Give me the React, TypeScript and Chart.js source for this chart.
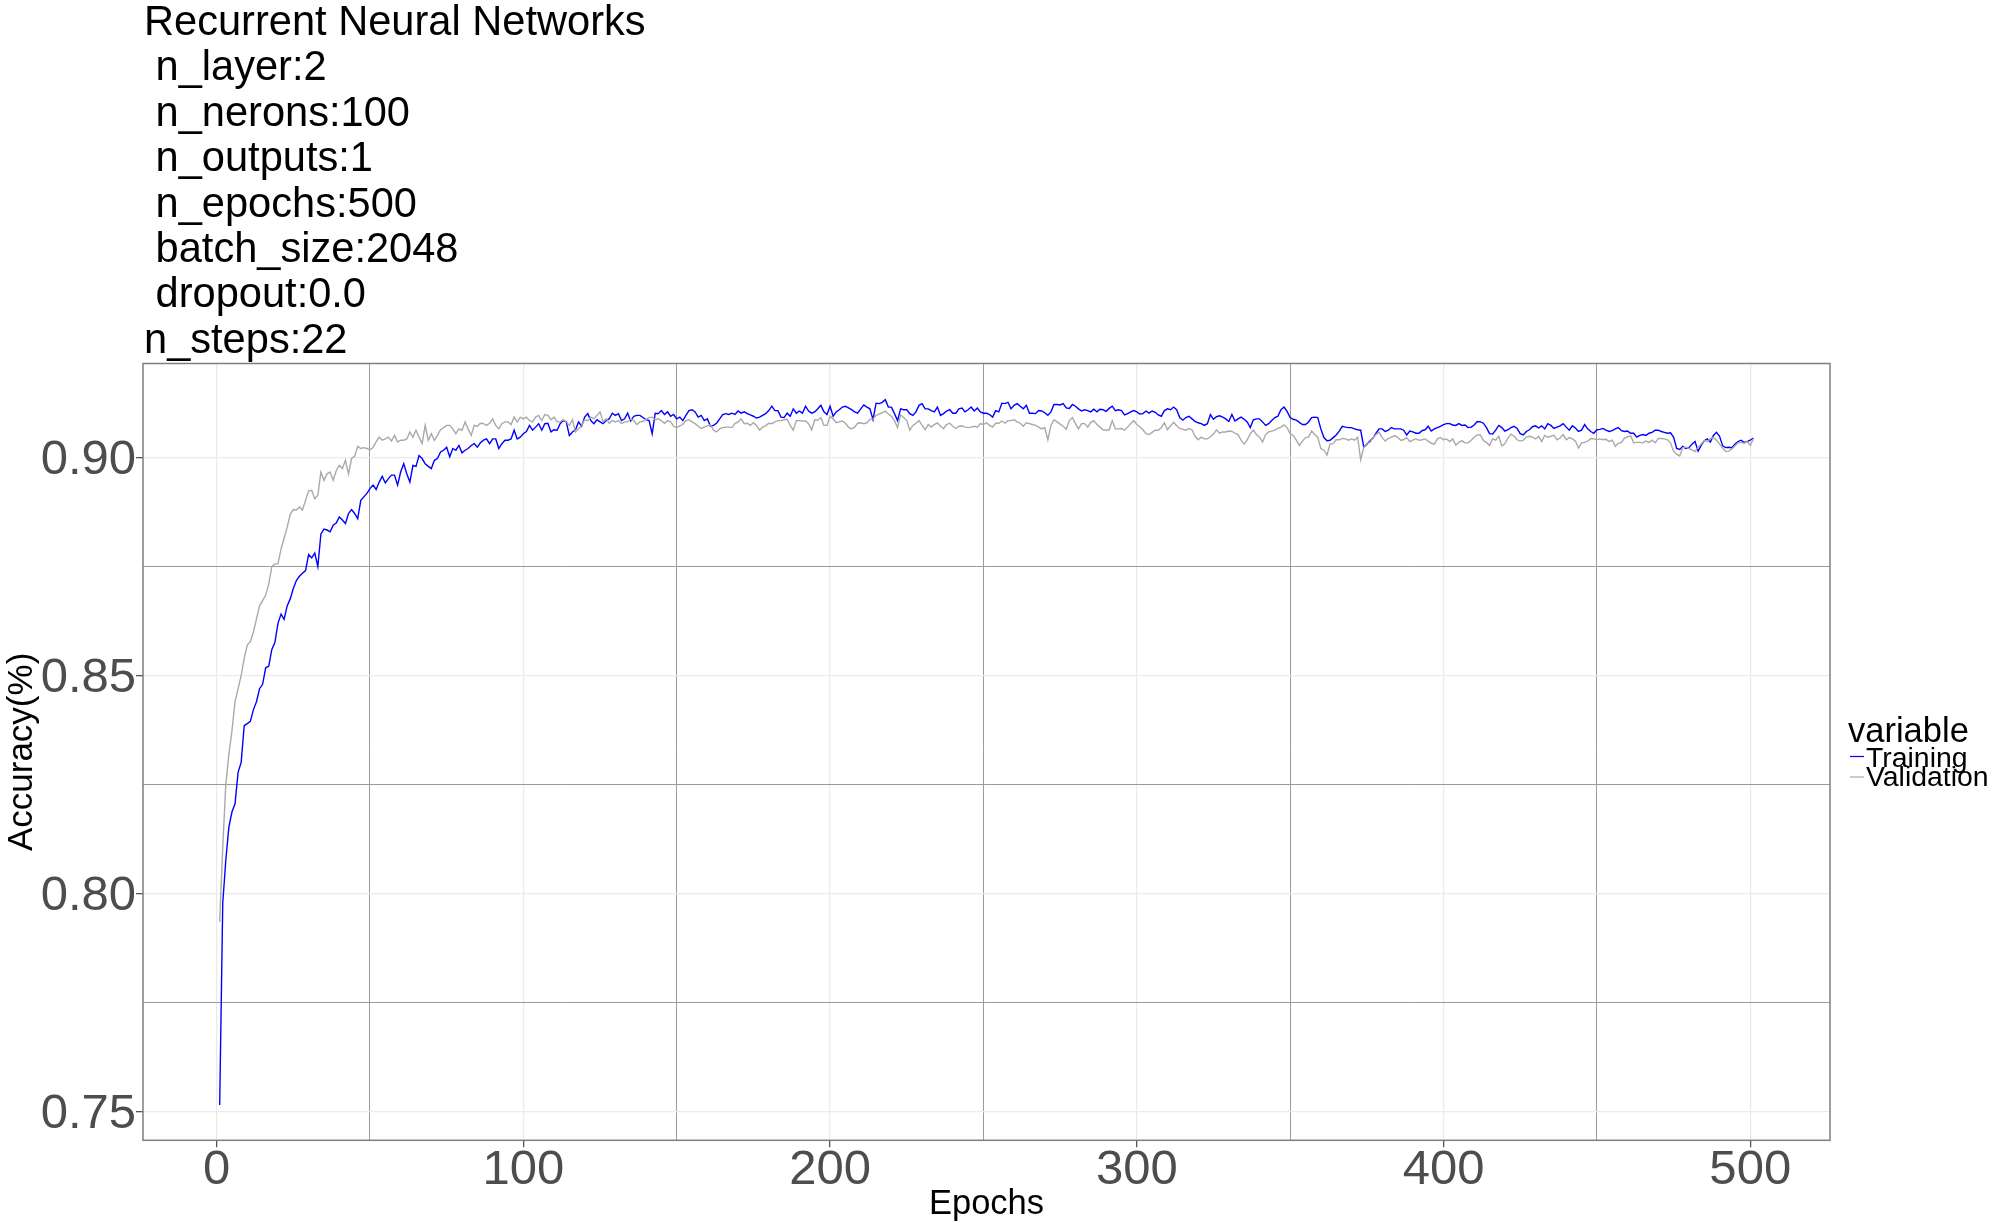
import React, { useEffect, useRef } from "react";
import { Chart, registerables } from "chart.js";

Chart.register(...registerables);

const FONT = '"Liberation Sans", Arial, Helvetica, sans-serif';

const titleLines = [
  "Recurrent Neural Networks",
  " n_layer:2",
  " n_nerons:100",
  " n_outputs:1",
  " n_epochs:500",
  " batch_size:2048",
  " dropout:0.0",
  "n_steps:22",
];

const seriesNames = ["Training", "Validation"];
const seriesColors = ["#0000FF", "#A9A9A9"];
const legendTitle = "variable";
const xTitle = "Epochs";
const yTitle = "Accuracy(%)";

const xTickValues = [0, 50, 100, 150, 200, 250, 300, 350, 400, 450, 500];
const xMajorTicks = [0, 100, 200, 300, 400, 500];
const yTickValues = [0.75, 0.775, 0.8, 0.825, 0.85, 0.875, 0.9];
const yMajorTicks = [0.75, 0.8, 0.85, 0.9];

// accuracy per epoch (epoch 1 .. 501)
const training = [
  0.7515, 0.7978, 0.8077, 0.8153, 0.8187, 0.8206, 0.8278, 0.8301, 0.8385, 0.8390,
  0.8395, 0.8422, 0.8440, 0.8470, 0.8480, 0.8518, 0.8522, 0.8560, 0.8576, 0.8620,
  0.8641, 0.8629, 0.8660, 0.8676, 0.8700, 0.8718, 0.8728, 0.8735, 0.8741, 0.8778,
  0.8770, 0.8781, 0.8750, 0.8825, 0.8836, 0.8834, 0.8830, 0.8845, 0.8850, 0.8864,
  0.8857, 0.8849, 0.8872, 0.8881, 0.8872, 0.8860, 0.8902, 0.8910, 0.8918, 0.8929,
  0.8937, 0.8927, 0.8944, 0.8957, 0.8942, 0.8952, 0.8960, 0.8960, 0.8937, 0.8967,
  0.8986, 0.8963, 0.8944, 0.8982, 0.8980, 0.9005, 0.8998, 0.8986, 0.8980, 0.8975,
  0.8994, 0.8998, 0.9013, 0.9017, 0.9024, 0.9002, 0.9021, 0.9017, 0.9028, 0.9011,
  0.9017, 0.9021, 0.9028, 0.9032, 0.9024, 0.9034, 0.9040, 0.9043, 0.9032, 0.9043,
  0.9043, 0.9021, 0.9032, 0.9040, 0.9040, 0.9043, 0.9063, 0.9043, 0.9047, 0.9055,
  0.9060, 0.9074, 0.9063, 0.9070, 0.9078, 0.9063, 0.9078, 0.9079, 0.9059, 0.9064,
  0.9063, 0.9078, 0.9085, 0.9082, 0.9051, 0.9059, 0.9064, 0.9082, 0.9072, 0.9093,
  0.9101, 0.9085, 0.9078, 0.9087, 0.9082, 0.9078, 0.9085, 0.9089, 0.9102, 0.9097,
  0.9101, 0.9085, 0.9089, 0.9102, 0.9084, 0.9095, 0.9097, 0.9097, 0.9092, 0.9087,
  0.9085, 0.9055, 0.9102, 0.9101, 0.9108, 0.9099, 0.9105, 0.9095, 0.9099, 0.9089,
  0.9093, 0.9085, 0.9097, 0.9108, 0.9110, 0.9105, 0.9093, 0.9097, 0.9085, 0.9089,
  0.9072, 0.9074, 0.9079, 0.9089, 0.9099, 0.9101, 0.9099, 0.9102, 0.9099, 0.9107,
  0.9102, 0.9105, 0.9101, 0.9098, 0.9095, 0.9091, 0.9093, 0.9097, 0.9101, 0.9108,
  0.9118, 0.9108, 0.9108, 0.9093, 0.9092, 0.9102, 0.9095, 0.9112, 0.9102, 0.9107,
  0.9102, 0.9118, 0.9107, 0.9102, 0.9105, 0.9112, 0.9120, 0.9105, 0.9099, 0.9118,
  0.9095, 0.9105, 0.9110, 0.9116, 0.9118, 0.9114, 0.9110, 0.9105, 0.9102, 0.9112,
  0.9121, 0.9116, 0.9112, 0.9087, 0.9125, 0.9124, 0.9127, 0.9133, 0.9116, 0.9116,
  0.9101, 0.9085, 0.9112, 0.9110, 0.9110, 0.9101, 0.9097, 0.9105, 0.9120, 0.9124,
  0.9112, 0.9112, 0.9108, 0.9105, 0.9116, 0.9097, 0.9101, 0.9107, 0.9110, 0.9102,
  0.9102, 0.9112, 0.9114, 0.9105, 0.9110, 0.9116, 0.9107, 0.9114, 0.9105, 0.9102,
  0.9102, 0.9099, 0.9093, 0.9108, 0.9105, 0.9125, 0.9124, 0.9127, 0.9112, 0.9120,
  0.9124, 0.9118, 0.9112, 0.9120, 0.9102, 0.9102, 0.9101, 0.9108, 0.9107, 0.9103,
  0.9097, 0.9105, 0.9122, 0.9122, 0.9121, 0.9124, 0.9114, 0.9113, 0.9122, 0.9118,
  0.9112, 0.9107, 0.9110, 0.9108, 0.9105, 0.9111, 0.9105, 0.9111, 0.9110, 0.9106,
  0.9113, 0.9118, 0.9108, 0.9110, 0.9108, 0.9098, 0.9101, 0.9105, 0.9108, 0.9105,
  0.9100, 0.9101, 0.9107, 0.9102, 0.9107, 0.9104, 0.9098, 0.9095, 0.9108, 0.9112,
  0.9110, 0.9116, 0.9110, 0.9092, 0.9086, 0.9092, 0.9095, 0.9089, 0.9083, 0.9080,
  0.9078, 0.9074, 0.9078, 0.9099, 0.9088, 0.9094, 0.9096, 0.9093, 0.9089, 0.9083,
  0.9099, 0.9084, 0.9089, 0.9093, 0.9088, 0.9082, 0.9069, 0.9087, 0.9089, 0.9089,
  0.9082, 0.9074, 0.9078, 0.9085, 0.9092, 0.9095, 0.9110, 0.9116, 0.9106, 0.9092,
  0.9088, 0.9086, 0.9081, 0.9076, 0.9076, 0.9082, 0.9092, 0.9093, 0.9092, 0.9066,
  0.9046, 0.9039, 0.9040, 0.9046, 0.9052, 0.9061, 0.9072, 0.9070, 0.9069, 0.9069,
  0.9066, 0.9064, 0.9063, 0.9024, 0.9031, 0.9038, 0.9045, 0.9056, 0.9066, 0.9066,
  0.9060, 0.9063, 0.9069, 0.9066, 0.9066, 0.9066, 0.9063, 0.9052, 0.9061, 0.9059,
  0.9056, 0.9056, 0.9062, 0.9064, 0.9072, 0.9061, 0.9066, 0.9069, 0.9072, 0.9076,
  0.9078, 0.9078, 0.9075, 0.9074, 0.9078, 0.9074, 0.9075, 0.9069, 0.9070, 0.9075,
  0.9083, 0.9082, 0.9079, 0.9069, 0.9055, 0.9054, 0.9063, 0.9074, 0.9069, 0.9061,
  0.9064, 0.9069, 0.9072, 0.9067, 0.9055, 0.9052, 0.9060, 0.9064, 0.9071, 0.9073,
  0.9068, 0.9073, 0.9066, 0.9078, 0.9074, 0.9067, 0.9070, 0.9073, 0.9078, 0.9070,
  0.9063, 0.9073, 0.9068, 0.9060, 0.9063, 0.9076, 0.9066, 0.9060, 0.9056, 0.9064,
  0.9065, 0.9067, 0.9063, 0.9060, 0.9062, 0.9066, 0.9069, 0.9062, 0.9060, 0.9061,
  0.9056, 0.9056, 0.9047, 0.9051, 0.9053, 0.9051, 0.9056, 0.9058, 0.9063, 0.9063,
  0.9060, 0.9058, 0.9056, 0.9057, 0.9047, 0.9021, 0.9019, 0.9026, 0.9021, 0.9023,
  0.9031, 0.9037, 0.9015, 0.9028, 0.9039, 0.9043, 0.9036, 0.9051, 0.9058, 0.9049,
  0.9027, 0.9023, 0.9024, 0.9023, 0.9031, 0.9037, 0.9040, 0.9035, 0.9037, 0.9040,
  0.9045,
];

const validation = [
  0.7935, 0.8107, 0.8250, 0.8320, 0.8373, 0.8440, 0.8470, 0.8500, 0.8540, 0.8570,
  0.8578, 0.8600, 0.8630, 0.8660, 0.8672, 0.8685, 0.8710, 0.8750, 0.8756, 0.8757,
  0.8790, 0.8815, 0.8840, 0.8870, 0.8881, 0.8880, 0.8887, 0.8880, 0.8902, 0.8924,
  0.8925, 0.8906, 0.8914, 0.8967, 0.8948, 0.8963, 0.8967, 0.8948, 0.8970, 0.8982,
  0.8975, 0.8994, 0.8963, 0.8998, 0.9003, 0.9026, 0.9021, 0.9023, 0.9021, 0.9018,
  0.9023, 0.9036, 0.9047, 0.9040, 0.9043, 0.9047, 0.9038, 0.9051, 0.9036, 0.9040,
  0.9040, 0.9043, 0.9059, 0.9047, 0.9063, 0.9047, 0.9032, 0.9074, 0.9040, 0.9055,
  0.9040, 0.9051, 0.9064, 0.9069, 0.9074, 0.9074, 0.9066, 0.9055, 0.9066, 0.9063,
  0.9082, 0.9066, 0.9051, 0.9074, 0.9072, 0.9079, 0.9078, 0.9074, 0.9079, 0.9089,
  0.9074, 0.9066, 0.9078, 0.9082, 0.9082, 0.9076, 0.9093, 0.9082, 0.9093, 0.9089,
  0.9093, 0.9085, 0.9082, 0.9093, 0.9097, 0.9085, 0.9099, 0.9097, 0.9087, 0.9093,
  0.9082, 0.9082, 0.9087, 0.9082, 0.9074, 0.9087, 0.9059, 0.9066, 0.9074, 0.9087,
  0.9085, 0.9093, 0.9089, 0.9097, 0.9105, 0.9082, 0.9089, 0.9079, 0.9085, 0.9082,
  0.9085, 0.9078, 0.9082, 0.9082, 0.9089, 0.9085, 0.9076, 0.9082, 0.9083, 0.9088,
  0.9092, 0.9093, 0.9087, 0.9089, 0.9085, 0.9079, 0.9085, 0.9082, 0.9072, 0.9069,
  0.9073, 0.9076, 0.9085, 0.9087, 0.9082, 0.9078, 0.9072, 0.9067, 0.9070, 0.9073,
  0.9076, 0.9063, 0.9059, 0.9066, 0.9069, 0.9070, 0.9070, 0.9069, 0.9078, 0.9082,
  0.9089, 0.9078, 0.9079, 0.9074, 0.9080, 0.9074, 0.9063, 0.9070, 0.9073, 0.9079,
  0.9078, 0.9082, 0.9085, 0.9085, 0.9087, 0.9088, 0.9074, 0.9063, 0.9085, 0.9085,
  0.9084, 0.9084, 0.9078, 0.9064, 0.9087, 0.9086, 0.9092, 0.9074, 0.9074, 0.9095,
  0.9089, 0.9080, 0.9082, 0.9084, 0.9079, 0.9070, 0.9066, 0.9070, 0.9079, 0.9080,
  0.9078, 0.9080, 0.9088, 0.9089, 0.9097, 0.9100, 0.9103, 0.9107, 0.9100, 0.9095,
  0.9085, 0.9069, 0.9098, 0.9092, 0.9085, 0.9063, 0.9074, 0.9079, 0.9085, 0.9074,
  0.9064, 0.9076, 0.9070, 0.9076, 0.9080, 0.9072, 0.9067, 0.9076, 0.9079, 0.9072,
  0.9067, 0.9072, 0.9073, 0.9070, 0.9069, 0.9070, 0.9072, 0.9070, 0.9078, 0.9076,
  0.9080, 0.9074, 0.9070, 0.9079, 0.9079, 0.9084, 0.9079, 0.9085, 0.9085, 0.9087,
  0.9082, 0.9079, 0.9072, 0.9080, 0.9078, 0.9076, 0.9074, 0.9070, 0.9066, 0.9069,
  0.9041, 0.9074, 0.9087, 0.9082, 0.9077, 0.9072, 0.9065, 0.9085, 0.9092, 0.9078,
  0.9066, 0.9078, 0.9078, 0.9070, 0.9081, 0.9085, 0.9076, 0.9070, 0.9064, 0.9063,
  0.9064, 0.9085, 0.9066, 0.9066, 0.9067, 0.9063, 0.9070, 0.9078, 0.9085, 0.9076,
  0.9071, 0.9064, 0.9055, 0.9053, 0.9058, 0.9063, 0.9063, 0.9069, 0.9080, 0.9064,
  0.9073, 0.9081, 0.9073, 0.9067, 0.9065, 0.9063, 0.9067, 0.9064, 0.9049, 0.9041,
  0.9047, 0.9043, 0.9043, 0.9048, 0.9054, 0.9064, 0.9056, 0.9059, 0.9059, 0.9061,
  0.9060, 0.9056, 0.9053, 0.9040, 0.9031, 0.9041, 0.9055, 0.9063, 0.9053, 0.9047,
  0.9036, 0.9053, 0.9059, 0.9061, 0.9063, 0.9067, 0.9070, 0.9075, 0.9069, 0.9055,
  0.9051, 0.9040, 0.9028, 0.9038, 0.9046, 0.9047, 0.9061, 0.9053, 0.9047, 0.9021,
  0.9017, 0.9006, 0.9031, 0.9032, 0.9041, 0.9041, 0.9044, 0.9043, 0.9040, 0.9043,
  0.9040, 0.9047, 0.8995, 0.9023, 0.9033, 0.9035, 0.9046, 0.9053, 0.9058, 0.9046,
  0.9038, 0.9044, 0.9047, 0.9050, 0.9047, 0.9040, 0.9041, 0.9046, 0.9037, 0.9040,
  0.9043, 0.9040, 0.9041, 0.9043, 0.9038, 0.9033, 0.9031, 0.9043, 0.9046, 0.9041,
  0.9043, 0.9037, 0.9043, 0.9029, 0.9035, 0.9039, 0.9034, 0.9034, 0.9040, 0.9047,
  0.9052, 0.9052, 0.9039, 0.9035, 0.9028, 0.9043, 0.9040, 0.9049, 0.9027, 0.9032,
  0.9045, 0.9054, 0.9049, 0.9041, 0.9038, 0.9040, 0.9047, 0.9049, 0.9047, 0.9043,
  0.9049, 0.9037, 0.9051, 0.9047, 0.9049, 0.9051, 0.9041, 0.9045, 0.9053, 0.9041,
  0.9046, 0.9043, 0.9038, 0.9022, 0.9034, 0.9035, 0.9038, 0.9044, 0.9043, 0.9041,
  0.9043, 0.9041, 0.9042, 0.9037, 0.9040, 0.9026, 0.9033, 0.9035, 0.9045, 0.9048,
  0.9050, 0.9034, 0.9035, 0.9035, 0.9034, 0.9038, 0.9035, 0.9040, 0.9034, 0.9044,
  0.9044, 0.9043, 0.9041, 0.9034, 0.9015, 0.9008, 0.9004, 0.9023, 0.9024, 0.9021,
  0.9018, 0.9014, 0.9024, 0.9031, 0.9039, 0.9037, 0.9044, 0.9046, 0.9040, 0.9031,
  0.9022, 0.9014, 0.9015, 0.9020, 0.9027, 0.9034, 0.9035, 0.9033, 0.9037, 0.9028,
  0.9043,
];

const isIn = (list: number[], v: number) => list.some((m) => Math.abs(m - v) < 1e-6);

const decorPlugin = {
  id: "decor",
  afterDraw(chart: any) {
    const { ctx, chartArea } = chart;
    ctx.save();
    // panel border
    ctx.strokeStyle = "#7F7F7F";
    ctx.lineWidth = 1.5;
    ctx.strokeRect(chartArea.left, chartArea.top, chartArea.right - chartArea.left, chartArea.bottom - chartArea.top);

    // title block
    ctx.fillStyle = "#000000";
    ctx.textAlign = "left";
    ctx.textBaseline = "alphabetic";
    ctx.font = `41.6px ${FONT}`;
    titleLines.forEach((line, i) => {
      ctx.fillText(line, 144, 35 + i * 45.4);
    });

    // legend
    ctx.font = `34.5px ${FONT}`;
    ctx.fillText(legendTitle, 1848, 742);
    ctx.font = `28.4px ${FONT}`;
    const keyY = [756.5, 777];
    const textY = [767, 786];
    seriesNames.forEach((name, i) => {
      ctx.strokeStyle = seriesColors[i];
      ctx.lineWidth = 1.2;
      ctx.beginPath();
      ctx.moveTo(1850, keyY[i]);
      ctx.lineTo(1864, keyY[i]);
      ctx.stroke();
      ctx.fillStyle = "#000000";
      ctx.fillText(name, 1866, textY[i]);
    });
    ctx.restore();
  },
};

export default function App() {
  const ref = useRef<HTMLCanvasElement | null>(null);

  useEffect(() => {
    if (!ref.current) return;
    Chart.defaults.font.family = FONT;
    const chart = new Chart(ref.current, {
      type: "line",
      data: {
        datasets: [
          {
            label: seriesNames[0],
            data: training.map((v, i) => ({ x: i + 1, y: v })),
            borderColor: seriesColors[0],
            backgroundColor: seriesColors[0],
            borderWidth: 1.4,
            pointRadius: 0,
            tension: 0,
            order: 1,
          },
          {
            label: seriesNames[1],
            data: validation.map((v, i) => ({ x: i + 1, y: v })),
            borderColor: seriesColors[1],
            backgroundColor: seriesColors[1],
            borderWidth: 1.4,
            pointRadius: 0,
            tension: 0,
            order: 0,
          },
        ],
      },
      options: {
        animation: false,
        responsive: false,
        maintainAspectRatio: false,
        layout: { padding: { top: 363.5, right: 170, left: 0, bottom: 0 } },
        plugins: {
          legend: { display: false },
          title: { display: false },
          tooltip: { enabled: false },
        },
        scales: {
          x: {
            type: "linear",
            min: -24,
            max: 526,
            afterBuildTicks: (axis: any) => {
              axis.ticks = xTickValues.map((v) => ({ value: v }));
            },
            afterFit: (axis: any) => {
              axis.height = 82.7;
            },
            ticks: {
              autoSkip: false,
              maxRotation: 0,
              minRotation: 0,
              padding: -1.8,
              color: "#4D4D4D",
              font: { size: 49, lineHeight: 1 },
              callback: (v: any) => (isIn(xMajorTicks, Number(v)) ? String(v) : ""),
            },
            grid: {
              drawTicks: true,
              tickLength: 7,
              color: (c: any) => (c.tick && isIn(xMajorTicks, c.tick.value) ? "#EBEBEB" : "#9A9A9A"),
              lineWidth: (c: any) => (c.tick && isIn(xMajorTicks, c.tick.value) ? 1.3 : 1),
              tickColor: (c: any) => (c.tick && isIn(xMajorTicks, c.tick.value) ? "#555555" : "rgba(0,0,0,0)"),
              tickWidth: 1.3,
            },
            border: { display: false },
            title: {
              display: true,
              text: xTitle,
              color: "#000000",
              font: { size: 34.5 },
              padding: { top: 0, bottom: -2.5 },
            },
          },
          y: {
            type: "linear",
            min: 0.7434,
            max: 0.9216,
            afterBuildTicks: (axis: any) => {
              axis.ticks = yTickValues.map((v) => ({ value: v }));
            },
            afterFit: (axis: any) => {
              axis.width = 143;
            },
            ticks: {
              autoSkip: false,
              padding: 0,
              labelOffset: 3,
              color: "#4D4D4D",
              font: { size: 49, lineHeight: 1 },
              callback: (v: any) => (isIn(yMajorTicks, Number(v)) ? Number(v).toFixed(2) : ""),
            },
            grid: {
              drawTicks: true,
              tickLength: 7,
              color: (c: any) => (c.tick && isIn(yMajorTicks, c.tick.value) ? "#EBEBEB" : "#9A9A9A"),
              lineWidth: (c: any) => (c.tick && isIn(yMajorTicks, c.tick.value) ? 1.3 : 1),
              tickColor: (c: any) => (c.tick && isIn(yMajorTicks, c.tick.value) ? "#555555" : "rgba(0,0,0,0)"),
              tickWidth: 1.3,
            },
            border: { display: false },
            title: {
              display: true,
              text: yTitle,
              color: "#000000",
              font: { size: 35 },
              padding: { top: 1, bottom: 0 },
            },
          },
        },
      },
      plugins: [decorPlugin],
    });
    return () => chart.destroy();
  }, []);

  return (
    <div style={{ position: "absolute", left: 0, top: 0, width: 2000, height: 1223, background: "#FFFFFF" }}>
      <canvas ref={ref} width={2000} height={1223} style={{ width: 2000, height: 1223, display: "block" }} />
    </div>
  );
}
